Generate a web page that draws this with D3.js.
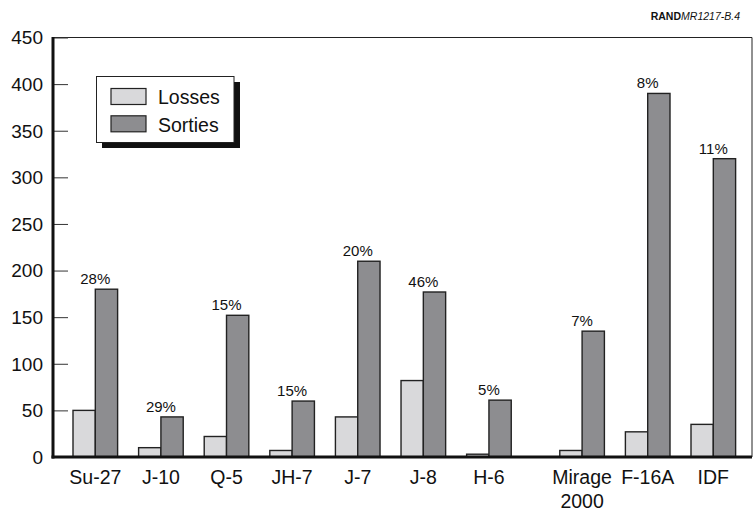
<!DOCTYPE html>
<html><head><meta charset="utf-8">
<script src="https://cdn.jsdelivr.net/npm/d3@7"></script>
<style>
html,body{margin:0;padding:0;background:#fff;}
svg text{font-family:"Liberation Sans",Arial,Helvetica,sans-serif;fill:#111;}
</style></head>
<body><svg id="chart" width="756" height="512"></svg>
<script>
const categories = ["Su-27","J-10","Q-5","JH-7","J-7","J-8","H-6","Mirage 2000","F-16A","IDF"];
const cluster    = [0,0,0,0,0,0,0,1,1,1];
const losses     = [50,10,22,7,43,82,3,7,27,35];
const sorties    = [180,43,152,60,210,177,61,135,390,320];
const pctLabels  = ["28%","29%","15%","15%","20%","46%","5%","7%","8%","11%"];
const yTicks     = [0,50,100,150,200,250,300,350,400,450];
const seriesNames = ["Losses","Sorties"];
const seriesColors = ["#d9d9db","#8d8d90"];

const svg = d3.select("#chart");
const x0 = 53, xRight = 752, yTop = 37.5, yBase = 457;
const clusterGap = 0.42;
const slot = categories.map((c,i)=> i + cluster[i]*clusterGap);
const x = d3.scaleLinear().domain([0, d3.max(slot)]).range([73, 691]);
const step = x(1) - x(0);
const bw = step * 0.34;
const y = d3.scaleLinear().domain([0,450]).range([yBase, yTop]);

// frame (top & right thin lines)
svg.append("path")
  .attr("d", `M${x0},${yTop}H${xRight}V${yBase}`)
  .attr("fill","none").attr("stroke","#222").attr("stroke-width",1);

// y axis
const yAxis = d3.axisRight(y).tickValues(yTicks).tickSize(15).tickFormat("");
const gy = svg.append("g").attr("transform",`translate(${x0},0)`).call(yAxis);
gy.select(".domain").remove();
gy.selectAll(".tick line").attr("stroke","#333").attr("stroke-width",1);
svg.append("g").selectAll("text").data(yTicks).join("text")
  .attr("x", 43).attr("y", d=>y(d)).attr("dy","0.36em")
  .attr("text-anchor","end").style("font-size","19px").text(d=>d);

// bars
const data = categories.map((c,i)=>({c, i, vals:[losses[i], sorties[i]]}));
const groups = svg.append("g").selectAll("g").data(data).join("g");
groups.selectAll("rect").data(d=>d.vals.map((v,k)=>({v,k,i:d.i}))).join("rect")
  .attr("x", d=> x(slot[d.i]) + d.k*bw)
  .attr("y", d=> y(d.v))
  .attr("width", bw)
  .attr("height", d=> yBase - y(d.v))
  .attr("fill", d=> seriesColors[d.k])
  .attr("stroke","#222").attr("stroke-width",1.4);

// percentage labels
svg.append("g").selectAll("text").data(data).join("text")
  .attr("x", d=> x(slot[d.i]) + bw)
  .attr("y", d=> y(sorties[d.i]) - 5)
  .attr("text-anchor","middle").style("font-size","15px")
  .text(d=>pctLabels[d.i]);

// axis lines (thick)
svg.append("line").attr("x1",x0).attr("x2",x0).attr("y1",yTop-0.5).attr("y2",yBase+1.5)
  .attr("stroke","#111").attr("stroke-width",3);
svg.append("line").attr("x1",x0-1.5).attr("x2",xRight).attr("y1",yBase).attr("y2",yBase)
  .attr("stroke","#111").attr("stroke-width",3);

// category labels
const cl = svg.append("g").selectAll("text").data(data).join("text")
  .attr("x", d=> x(slot[d.i]) + bw)
  .attr("y", 484)
  .attr("text-anchor","middle").style("font-size","19.5px");
cl.each(function(d){
  const parts = d.c.split(" ");
  const t = d3.select(this);
  parts.forEach((p,j)=>{
    t.append("tspan").attr("x", x(slot[d.i]) + bw).attr("dy", j===0?0:23.5).text(p);
  });
});

// legend
const lg = svg.append("g");
lg.append("rect").attr("x",102).attr("y",82).attr("width",138).attr("height",66).attr("fill","#111");
lg.append("rect").attr("x",96.5).attr("y",76.5).attr("width",137.5).attr("height",66)
  .attr("fill","#fff").attr("stroke","#222").attr("stroke-width",1);
seriesNames.forEach((n,k)=>{
  lg.append("rect").attr("x",111).attr("y",88.5 + k*27.3).attr("width",35).attr("height",16)
    .attr("fill",seriesColors[k]).attr("stroke","#222").attr("stroke-width",1.2);
  lg.append("text").attr("x",158).attr("y",104.3 + k*27.3)
    .style("font-size","19.5px").text(n);
});

// source note
const note = svg.append("text").attr("x",740).attr("y",19.5).attr("text-anchor","end").style("font-size","10.5px");
note.append("tspan").style("font-weight","bold").text("RAND");
note.append("tspan").style("font-style","italic").text("MR1217-B.4");
</script></body></html>
